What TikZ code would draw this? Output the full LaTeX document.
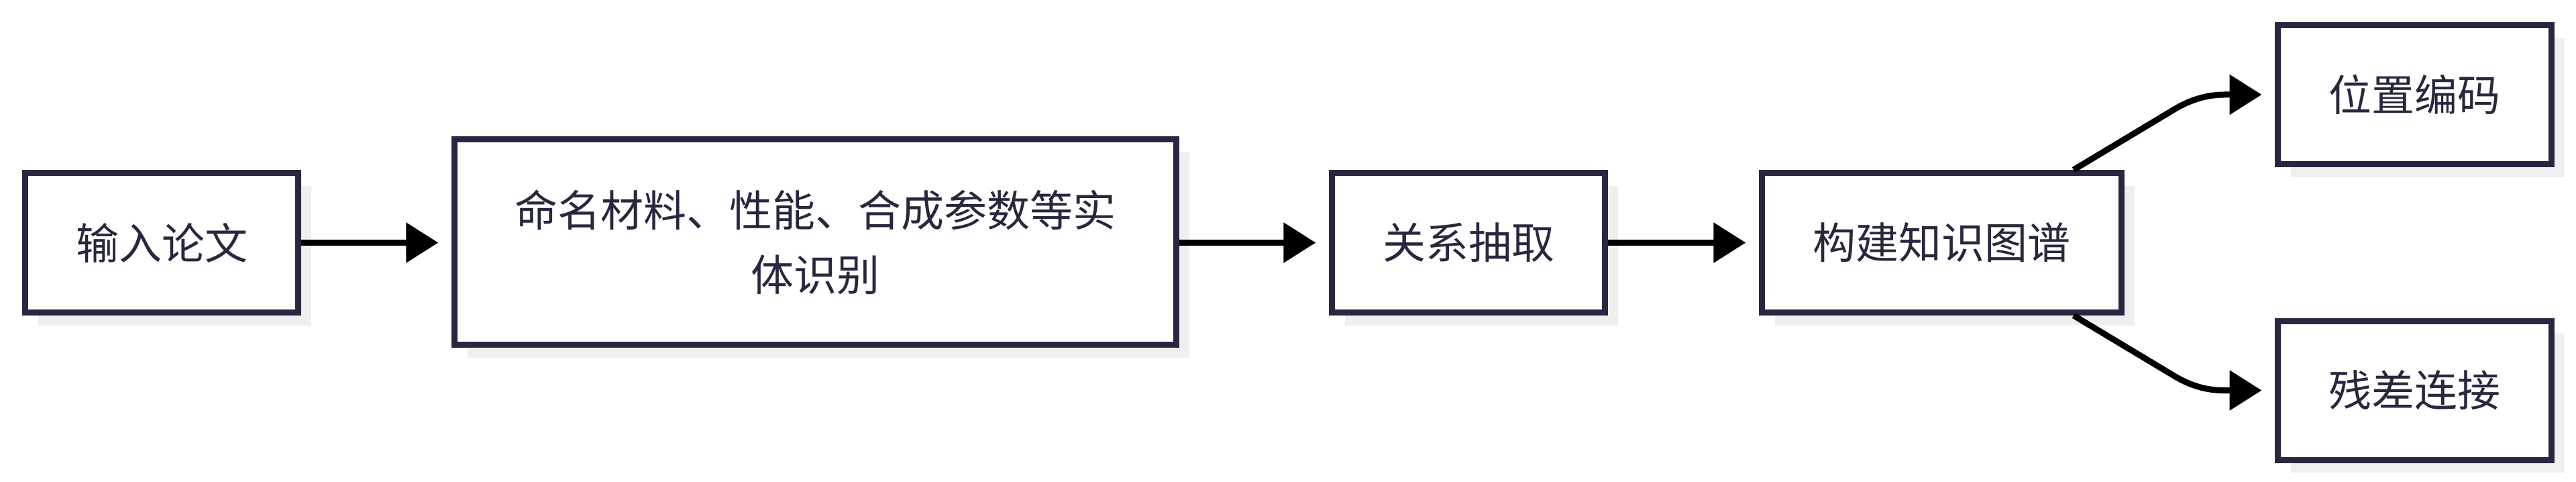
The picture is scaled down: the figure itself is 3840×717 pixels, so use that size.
\documentclass[tikz,border=0pt]{standalone}
\usepackage{fontspec}
\setmainfont{Noto Sans CJK SC}
\usetikzlibrary{arrows.meta,calc,shadows}
\definecolor{boxline}{HTML}{27273F}
\definecolor{shadowgray}{HTML}{EFEFEF}
\tikzset{
  box/.style={draw=boxline, line width=2.25pt, fill=white, rectangle,
    inner sep=0pt, text=boxline, font=\fontsize{16pt}{24pt}\selectfont,
    general shadow={fill=shadowgray, shadow xshift=4.75pt, shadow yshift=-4.75pt}},
  arr/.style={draw=black, line width=2.25pt, -{Triangle[length=12pt,width=14.5pt]}},
}
\begin{document}
\begin{tikzpicture}[x=0.25pt,y=-0.25pt]
\useasboundingbox (0,0) rectangle (3840,717);
\node[box, minimum width=101.75pt, minimum height=52pt] (b1) at (241,361.5) {输入论文};
\node[box, minimum width=269pt, minimum height=76.5pt, align=center] (b2) at (1215.5,360.5) {命名材料、性能、合成参数等实\\体识别};
\node[box, minimum width=101.75pt, minimum height=52pt] (b3) at (2189,361.5) {关系抽取};
\node[box, minimum width=134pt, minimum height=52pt] (b4) at (2894.5,361.5) {构建知识图谱};
\node[box, minimum width=102pt, minimum height=51.75pt] (b5) at (3599.5,141) {位置编码};
\node[box, minimum width=102pt, minimum height=51.75pt] (b6) at (3599.5,581.5) {残差连接};
\draw[arr, shorten >=4.9pt] (b1.east) -- (b1.east -| b2.west);
\draw[arr, shorten >=4.9pt] (b2.east |- b3.west) -- (b3.west);
\draw[arr, shorten >=4.9pt] (b3.east) -- (b4.west);
\coordinate (s1) at ($(b4.north east)+(-76,0)$);
\coordinate (s2) at ($(b4.south east)+(-76,0)$);
\coordinate (t1) at ($(b5.west)+(-19.5,0)$);
\coordinate (t2) at ($(b6.west)+(-19.5,0)$);
\draw[arr] (s1) -- ++(150,-90) .. controls +(40,-24) and +(-60,0) .. (t1);
\draw[arr] (s2) -- ++(150,90) .. controls +(40,24) and +(-60,0) .. (t2);
\end{tikzpicture}
\end{document}
